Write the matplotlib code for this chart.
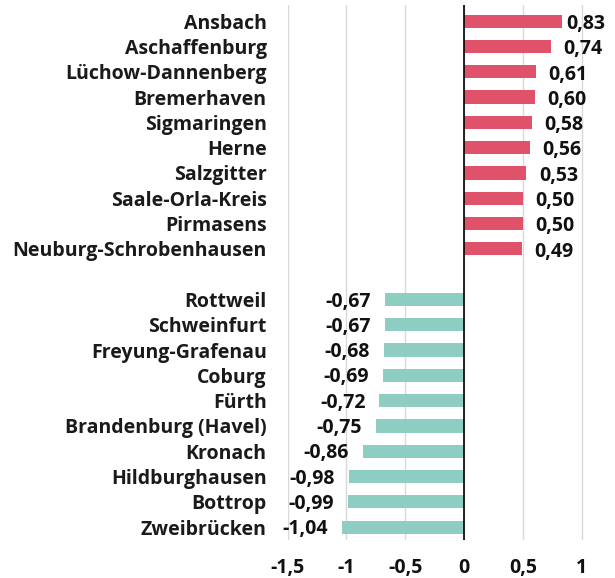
import numpy as np
import matplotlib.pyplot as plt

plt.rcParams['font.family'] = ['Open Sans', 'DejaVu Sans']

top_names = ["Ansbach", "Aschaffenburg", "Lüchow-Dannenberg", "Bremerhaven", "Sigmaringen",
             "Herne", "Salzgitter", "Saale-Orla-Kreis", "Pirmasens", "Neuburg-Schrobenhausen"]
top_values = [0.83, 0.74, 0.61, 0.60, 0.58, 0.56, 0.53, 0.50, 0.50, 0.49]

bottom_names = ["Rottweil", "Schweinfurt", "Freyung-Grafenau", "Coburg", "Fürth",
                "Brandenburg (Havel)", "Kronach", "Hildburghausen", "Bottrop", "Zweibrücken"]
bottom_values = [-0.67, -0.67, -0.68, -0.69, -0.72, -0.75, -0.86, -0.98, -0.99, -1.04]

x_ticks = [-1.5, -1, -0.5, 0, 0.5, 1]
x_tick_labels = ["-1,5", "-1", "-0,5", "0", "0,5", "1"]

red = "#E0516A"
teal = "#8ECDC2"
fs = 14


def fmt(v):
    return f"{v:.2f}".replace(".", ",")


fig = plt.figure(figsize=(6.15, 5.78), dpi=100)
ax = fig.add_axes([0.4675, 0.0657, 0.4975, 0.9253])

y_top = np.arange(len(top_values))
y_bot = np.arange(len(bottom_values)) + len(top_values) + 1

ax.barh(y_top, top_values, height=0.52, color=red, zorder=3)
ax.barh(y_bot, bottom_values, height=0.52, color=teal, zorder=3)

# positive labels: keep inside the plot area like the original
for y, v in zip(y_top, top_values):
    ax.annotate(fmt(v), (min(v + 0.105, 0.865), y), xytext=(0, -2), textcoords="offset points",
                ha="left", va="center", fontsize=fs, fontweight="bold", color="#111111")
for y, v in zip(y_bot, bottom_values):
    ax.annotate(fmt(v), (v, y), xytext=(-10, -1.5), textcoords="offset points",
                ha="right", va="center", fontsize=fs, fontweight="bold", color="#111111")

ax.set_xlim(-1.5, 1.1)
ax.set_ylim(20.51, -0.63)
ax.axvline(0, color="black", lw=1.2, zorder=4)

ax.set_xticks(x_ticks)
ax.set_xticklabels(x_tick_labels, fontsize=fs, fontweight="bold", color="#111111")
ax.set_yticks(list(y_top) + list(y_bot))
ax.set_yticklabels(top_names + bottom_names, fontsize=fs, fontweight="bold", color="#1a1a1a")
ax.tick_params(axis="both", length=0)
ax.tick_params(axis="x", pad=13)
ax.tick_params(axis="y", pad=15)
ax.grid(axis="x", color="#d9d9d9", lw=1, zorder=0)
for s in ax.spines.values():
    s.set_visible(False)

fig.savefig("out.png", dpi=100)
